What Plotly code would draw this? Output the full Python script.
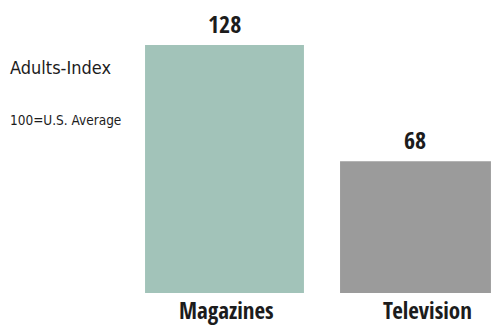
import plotly.graph_objects as go

categories = ["Magazines", "Television"]
index_values = [128, 68]
bar_colors = ["#a2c3b9", "#9b9b9b"]
bar_widths = [0.832, 0.79]

BOLD_FONT = "Open Sans Condensed, DejaVu Sans Condensed, sans-serif"
TEXT_FONT = "DejaVu Sans Condensed, sans-serif"
INK = "#1c1c1c"

fig = go.Figure(
    go.Bar(
        x=categories,
        y=index_values,
        width=bar_widths,
        marker=dict(color=bar_colors, line=dict(width=0)),
        hoverinfo="skip",
    )
)

# value labels above each bar
for cat, val in zip(categories, index_values):
    fig.add_annotation(
        x=cat, y=val, text=f"<b>{val}</b>", showarrow=False,
        yanchor="middle", yshift=22,
        font=dict(family=BOLD_FONT, size=24, color=INK),
    )

# category labels under the bars
label_shift = [2, 12]
for cat, dx in zip(categories, label_shift):
    fig.add_annotation(
        x=cat, y=0, text=f"<b>{cat}</b>", showarrow=False,
        yanchor="middle", yshift=-17, xshift=dx,
        font=dict(family=BOLD_FONT, size=23, color=INK),
    )

# left-hand title block
fig.add_annotation(
    xref="paper", yref="paper", x=-0.322, y=0.771, xanchor="left", yanchor="middle",
    text="Adults-Index", showarrow=False,
    font=dict(family=TEXT_FONT, size=18, color=INK),
)
fig.add_annotation(
    xref="paper", yref="paper", x=-0.322, y=0.59, xanchor="left", yanchor="middle",
    text="100=U.S. Average", showarrow=False,
    font=dict(family=TEXT_FONT, size=13.5, color=INK),
)

fig.update_layout(
    width=493, height=327,
    margin=dict(l=126, r=0, t=0, b=34),
    paper_bgcolor="white", plot_bgcolor="white",
    showlegend=False,
    xaxis=dict(
        type="category", range=[-0.5157, 1.4058],
        showgrid=False, zeroline=False, showline=False, ticks="",
        showticklabels=False,
    ),
    yaxis=dict(
        range=[0, 151.3], visible=False, showgrid=False, zeroline=False,
    ),
)

fig.write_html("out.html")
